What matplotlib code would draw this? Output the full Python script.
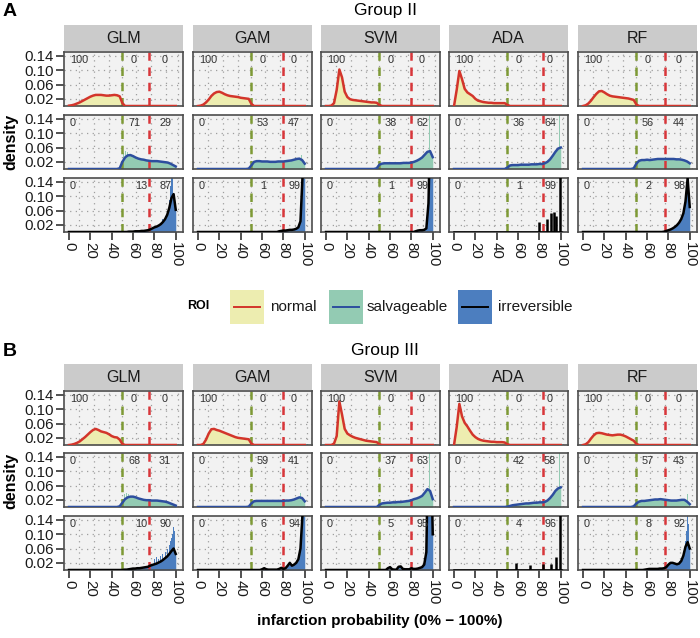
import matplotlib
matplotlib.use("Agg")
import matplotlib.pyplot as plt
from matplotlib.patches import Rectangle
from matplotlib.lines import Line2D

plt.rcParams['font.family'] = ['Liberation Sans', 'DejaVu Sans']

# ---------------- data ----------------
models = ["GLM", "GAM", "SVM", "ADA", "RF"]
roi_names = ["normal", "salvageable", "irreversible"]
group_titles = ["Group II", "Group III"]
panel_letters = ["A", "B"]
green_thr = [50, 50, 50, 50, 50]
red_thr = [75, 80, 80, 83, 77]
x_ticks = [0, 20, 40, 60, 80, 100]
y_ticks = [0.02, 0.06, 0.10, 0.14]

x_normal = [0, 2.5, 5, 7.5, 10, 12.5, 15, 17.5, 20, 22.5, 25, 27.5, 30, 32.5, 35,
            37.5, 40, 42.5, 45, 47.5, 50, 52.5, 55]
x_salv = [45, 47.5, 50, 52.5, 55, 57.5, 60, 62.5, 65, 67.5, 70, 72.5, 75, 77.5, 80,
          82.5, 85, 87.5, 90, 92.5, 95, 97.5, 100]
x_irrev = [50, 52, 54, 56, 58, 60, 62, 64, 66, 68, 70, 72, 74, 76, 78, 80, 82, 84,
           86, 88, 90, 92, 94, 96, 98, 100]

g2_normal = [
    [0.001, 0.002, 0.004, 0.007, 0.010, 0.014, 0.018, 0.022, 0.026, 0.029, 0.031, 0.031, 0.031, 0.030, 0.029, 0.029, 0.030, 0.031, 0.030, 0.027, 0.008, 0, 0],
    [0, 0.001, 0.004, 0.010, 0.018, 0.028, 0.035, 0.039, 0.040, 0.037, 0.033, 0.030, 0.028, 0.027, 0.026, 0.025, 0.023, 0.022, 0.021, 0.020, 0.006, 0, 0],
    [0, 0, 0.001, 0.008, 0.045, 0.102, 0.080, 0.040, 0.025, 0.019, 0.017, 0.016, 0.015, 0.014, 0.013, 0.012, 0.011, 0.010, 0.010, 0.009, 0.003, 0, 0],
    [0, 0.045, 0.098, 0.075, 0.048, 0.038, 0.033, 0.028, 0.020, 0.015, 0.013, 0.011, 0.010, 0.009, 0.009, 0.008, 0.008, 0.008, 0.008, 0.008, 0.003, 0, 0],
    [0, 0.002, 0.007, 0.015, 0.025, 0.034, 0.041, 0.042, 0.038, 0.033, 0.029, 0.027, 0.026, 0.025, 0.024, 0.023, 0.022, 0.021, 0.019, 0.017, 0.004, 0, 0],
]
g3_normal = [
    [0, 0.001, 0.003, 0.006, 0.010, 0.016, 0.022, 0.029, 0.036, 0.042, 0.045, 0.042, 0.038, 0.036, 0.034, 0.030, 0.025, 0.022, 0.021, 0.015, 0.003, 0, 0],
    [0, 0, 0.003, 0.015, 0.032, 0.044, 0.045, 0.042, 0.040, 0.037, 0.034, 0.031, 0.028, 0.025, 0.022, 0.020, 0.019, 0.018, 0.017, 0.016, 0.004, 0, 0],
    [0, 0, 0, 0.004, 0.025, 0.122, 0.085, 0.045, 0.032, 0.027, 0.023, 0.020, 0.018, 0.016, 0.014, 0.012, 0.011, 0.010, 0.009, 0.008, 0.002, 0, 0],
    [0, 0.050, 0.115, 0.080, 0.062, 0.052, 0.040, 0.029, 0.022, 0.017, 0.014, 0.012, 0.011, 0.010, 0.009, 0.009, 0.008, 0.008, 0.008, 0.007, 0.002, 0, 0],
    [0, 0.002, 0.008, 0.018, 0.027, 0.033, 0.034, 0.033, 0.031, 0.029, 0.028, 0.027, 0.028, 0.029, 0.029, 0.027, 0.024, 0.020, 0.016, 0.012, 0.003, 0, 0],
]

g2_salv = [
    [0, 0.002, 0.020, 0.032, 0.038, 0.039, 0.036, 0.032, 0.029, 0.027, 0.026, 0.024, 0.023, 0.022, 0.022, 0.022, 0.021, 0.020, 0.019, 0.018, 0.015, 0.011, 0.007],
    [0, 0.001, 0.010, 0.020, 0.022, 0.022, 0.021, 0.021, 0.021, 0.020, 0.020, 0.020, 0.021, 0.021, 0.021, 0.022, 0.023, 0.024, 0.026, 0.028, 0.029, 0.025, 0.015],
    [0, 0.002, 0.012, 0.015, 0.016, 0.016, 0.016, 0.016, 0.016, 0.016, 0.016, 0.017, 0.017, 0.017, 0.018, 0.020, 0.023, 0.027, 0.032, 0.040, 0.048, 0.050, 0.033],
    [0, 0, 0.004, 0.010, 0.011, 0.011, 0.011, 0.012, 0.012, 0.012, 0.012, 0.013, 0.013, 0.013, 0.014, 0.014, 0.016, 0.020, 0.027, 0.037, 0.048, 0.057, 0.060],
    [0, 0.002, 0.015, 0.023, 0.025, 0.025, 0.026, 0.025, 0.026, 0.027, 0.028, 0.028, 0.028, 0.028, 0.028, 0.028, 0.028, 0.027, 0.027, 0.026, 0.024, 0.021, 0.016],
]
g3_salv = [
    [0, 0.002, 0.012, 0.022, 0.027, 0.029, 0.029, 0.027, 0.024, 0.022, 0.020, 0.019, 0.019, 0.018, 0.018, 0.018, 0.017, 0.016, 0.015, 0.013, 0.010, 0.007, 0.004],
    [0, 0.001, 0.010, 0.016, 0.017, 0.017, 0.017, 0.017, 0.017, 0.017, 0.017, 0.017, 0.017, 0.017, 0.017, 0.018, 0.018, 0.019, 0.021, 0.024, 0.027, 0.025, 0.016],
    [0, 0, 0.006, 0.010, 0.011, 0.012, 0.012, 0.013, 0.013, 0.014, 0.014, 0.015, 0.016, 0.017, 0.019, 0.022, 0.024, 0.027, 0.031, 0.040, 0.050, 0.045, 0.022],
    [0, 0, 0.001, 0.003, 0.005, 0.006, 0.007, 0.008, 0.009, 0.010, 0.010, 0.011, 0.012, 0.012, 0.013, 0.013, 0.014, 0.018, 0.025, 0.034, 0.045, 0.052, 0.055],
    [0, 0.002, 0.010, 0.015, 0.017, 0.017, 0.018, 0.019, 0.020, 0.021, 0.021, 0.022, 0.021, 0.020, 0.019, 0.018, 0.018, 0.018, 0.019, 0.020, 0.020, 0.015, 0.008],
]

g2_irrev = [
    [0, 0, 0, 0.001, 0.001, 0.001, 0.002, 0.002, 0.002, 0.003, 0.003, 0.004, 0.005, 0.007, 0.010, 0.013, 0.015, 0.018, 0.022, 0.028, 0.036, 0.048, 0.068, 0.095, 0.106, 0.062],
    [0, 0, 0, 0, 0, 0, 0, 0, 0, 0, 0, 0, 0, 0.002, 0.003, 0.004, 0.004, 0.005, 0.006, 0.006, 0.007, 0.009, 0.013, 0.030, 0.160, 0.300],
    [0, 0, 0, 0, 0, 0, 0, 0, 0, 0, 0, 0, 0, 0, 0, 0, 0, 0.002, 0.004, 0.005, 0.005, 0.006, 0.010, 0.080, 0.350, 0.300],
    [0, 0, 0, 0, 0, 0, 0, 0, 0, 0, 0, 0, 0, 0, 0, 0, 0, 0, 0, 0, 0, 0, 0, 0, 0, 0],
    [0, 0, 0, 0, 0, 0, 0, 0, 0, 0, 0, 0, 0, 0.001, 0.003, 0.005, 0.007, 0.010, 0.014, 0.019, 0.026, 0.036, 0.052, 0.085, 0.150, 0.070],
]
g3_irrev = [
    [0, 0.001, 0.001, 0.002, 0.003, 0.004, 0.004, 0.005, 0.005, 0.006, 0.007, 0.008, 0.009, 0.012, 0.014, 0.016, 0.018, 0.021, 0.024, 0.028, 0.033, 0.038, 0.045, 0.053, 0.060, 0.045],
    [0, 0, 0, 0, 0, 0.002, 0.005, 0.002, 0.001, 0.001, 0.001, 0.001, 0.001, 0.003, 0.006, 0.003, 0.005, 0.012, 0.020, 0.012, 0.015, 0.020, 0.030, 0.060, 0.160, 0.250],
    [0, 0, 0, 0, 0.005, 0.008, 0.002, 0.001, 0.001, 0.009, 0.010, 0.003, 0.002, 0.002, 0.002, 0.005, 0.003, 0.003, 0.004, 0.006, 0.008, 0.015, 0.050, 0.400, 0.400, 0.100],
    [0, 0, 0, 0, 0, 0, 0, 0, 0, 0, 0, 0, 0, 0, 0, 0, 0, 0, 0, 0, 0, 0, 0, 0, 0, 0],
    [0, 0, 0, 0, 0.001, 0.002, 0.003, 0.003, 0.003, 0.003, 0.003, 0.004, 0.004, 0.005, 0.008, 0.015, 0.020, 0.020, 0.018, 0.016, 0.018, 0.025, 0.040, 0.065, 0.078, 0.060],
]

# spiky ADA irreversible densities
g2_ada_spike_x = [79.5, 87, 90.5, 93.3, 96, 99]
g2_ada_spike_h = [0.028, 0.035, 0.052, 0.056, 0.045, 0.30]
g3_ada_spike_x = [58.5, 71, 83, 90.5, 96, 99]
g3_ada_spike_h = [0.020, 0.015, 0.018, 0.018, 0.035, 0.30]

# histogram bars standing above the density curves
g2_salv_bar_x = [[51, 53, 55, 57], [97], [97], [99], []]
g2_salv_bar_h = [[0.045, 0.050, 0.048, 0.042], [0.040], [0.150], [0.150], []]
g3_salv_bar_x = [[52, 54, 56], [96], [97], [99], [98]]
g3_salv_bar_h = [[0.035, 0.040, 0.036], [0.040], [0.150], [0.150], [0.035]]
g2_irrev_bar_x = [[88, 90, 92, 94, 95, 96, 97], [98, 99], [97, 98, 99], [], [95, 96, 97, 98, 99]]
g2_irrev_bar_h = [[0.035, 0.045, 0.060, 0.090, 0.130, 0.160, 0.160], [0.2, 0.2], [0.2, 0.2, 0.2], [],
                  [0.070, 0.110, 0.140, 0.160, 0.160]]
g3_irrev_bar_x = [[80, 82, 84, 86, 88, 90, 92, 94, 95, 96, 97, 98, 99], [97, 98, 99], [95, 96, 97, 98], [],
                  [90, 92, 94, 96, 97, 98, 99]]
g3_irrev_bar_h = [[0.030, 0.035, 0.030, 0.040, 0.045, 0.050, 0.060, 0.070, 0.080, 0.090, 0.100, 0.120, 0.110],
                  [0.2, 0.2, 0.2], [0.2, 0.2, 0.2, 0.2], [],
                  [0.025, 0.030, 0.045, 0.080, 0.110, 0.150, 0.130]]

# percentage annotations (left / middle / right of thresholds)
g2_pct = [
    [["100", "0", "0"]] * 5,
    [["0", "71", "29"], ["0", "53", "47"], ["0", "38", "62"], ["0", "36", "64"], ["0", "56", "44"]],
    [["0", "13", "87"], ["0", "1", "99"], ["0", "1", "99"], ["0", "1", "99"], ["0", "2", "98"]],
]
g3_pct = [
    [["100", "0", "0"]] * 5,
    [["0", "68", "31"], ["0", "59", "41"], ["0", "37", "63"], ["0", "42", "58"], ["0", "57", "43"]],
    [["0", "10", "90"], ["0", "6", "94"], ["0", "5", "95"], ["0", "4", "96"], ["0", "8", "92"]],
]

# ---------------- style ----------------
fill_cols = ["#EDEDB0", "#93CBB3", "#4C7EBF"]
line_cols = ["#D3352B", "#2D4E9E", "#000000"]
GREEN = "#7E9A35"
RED = "#D8363A"
PANEL_BG = "#F2F2F2"
STRIP_BG = "#CBCBCB"
BORDER = "#4D4D4D"
XLIM = (-4.7, 106.8)
YLIM = (0, 0.151)

W, H = 700, 638
fig = plt.figure(figsize=(7, 6.38), dpi=100)


def rect(x0, y0, w, h):
    return [x0 / W, 1 - (y0 + h) / H, w / W, h / H]


overlay = fig.add_axes([0, 0, 1, 1])
overlay.set_xlim(0, W)
overlay.set_ylim(H, 0)
overlay.axis("off")
overlay.set_zorder(-1)

col_left = [64, 193, 321, 449, 578]
col_w = 119
row_h = 54
layouts = [
    dict(rows=[52, 115, 178], strip=25, title_y=11, letter_y=12, dens_y=142),
    dict(rows=[391, 453, 516], strip=364, title_y=351, letter_y=351, dens_y=481),
]
groups = [
    dict(normal=g2_normal, salv=g2_salv, irrev=g2_irrev, ada_x=g2_ada_spike_x, ada_h=g2_ada_spike_h,
         sbx=g2_salv_bar_x, sbh=g2_salv_bar_h, ibx=g2_irrev_bar_x, ibh=g2_irrev_bar_h, pct=g2_pct),
    dict(normal=g3_normal, salv=g3_salv, irrev=g3_irrev, ada_x=g3_ada_spike_x, ada_h=g3_ada_spike_h,
         sbx=g3_salv_bar_x, sbh=g3_salv_bar_h, ibx=g3_irrev_bar_x, ibh=g3_irrev_bar_h, pct=g3_pct),
]
grid_x = [9, 23, 37, 50, 63, 77, 91, 102]

for gi, (grp, lay) in enumerate(zip(groups, layouts)):
    overlay.text(3, lay["letter_y"], panel_letters[gi], fontsize=14, fontweight="bold",
                 ha="left", va="center")
    overlay.text(385, lay["title_y"], group_titles[gi], fontsize=12.5, ha="center", va="center")
    overlay.text(11, lay["dens_y"], "density", fontsize=11.5, fontweight="bold",
                 rotation=90, ha="center", va="center")
    for ci, m in enumerate(models):
        # strip
        overlay.add_patch(Rectangle((col_left[ci], lay["strip"]), col_w, 26,
                                    facecolor=STRIP_BG, edgecolor="none"))
        overlay.text(col_left[ci] + col_w / 2, lay["strip"] + 13.5, m, fontsize=11.5,
                     ha="center", va="center", color="#1A1A1A")
        for ri in range(3):
            ax = fig.add_axes(rect(col_left[ci], lay["rows"][ri], col_w, row_h))
            ax.set_facecolor(PANEL_BG)
            ax.set_xlim(*XLIM)
            ax.set_ylim(*YLIM)
            for gx in grid_x:
                ax.axvline(gx, color="#9E9E9E", lw=0.9, ls=(0, (1, 3.5)), zorder=0.5)
            for gy in y_ticks:
                ax.axhline(gy, color="#9E9E9E", lw=0.9, ls=(0, (1, 3.5)), zorder=0.5)

            if ri == 0:
                xs, ys = x_normal + [100], grp["normal"][ci] + [0]
            elif ri == 1:
                xs, ys = [0] + x_salv, [0] + grp["salv"][ci]
            else:
                xs, ys = [0] + x_irrev, [0] + grp["irrev"][ci]

            ax.fill_between(xs, 0, ys, color=fill_cols[ri], lw=0, zorder=1)
            if ri == 1 and grp["sbx"][ci]:
                ax.bar(grp["sbx"][ci], grp["sbh"][ci], width=1.0, color=fill_cols[1], lw=0, zorder=1)
            if ri == 2 and grp["ibx"][ci]:
                ax.bar(grp["ibx"][ci], grp["ibh"][ci], width=1.0, color=fill_cols[2], lw=0, zorder=1)
            ax.plot(xs, ys, color=line_cols[ri], lw=1.8, zorder=3, solid_joinstyle="round")
            if ri == 2 and m == "ADA":
                ax.vlines(grp["ada_x"], 0, grp["ada_h"], color="#000000", lw=1.8, zorder=3)

            ax.axvline(green_thr[ci], color=GREEN, lw=1.8, dashes=(3.4, 2.7), zorder=2)
            ax.axvline(red_thr[ci], color=RED, lw=1.8, dashes=(3.4, 2.7), zorder=2)

            labs = grp["pct"][ri][ci]
            mid_x = 68 if (ri == 2 and m == "GLM") else 61
            ax.text(1, 0.128, labs[0], fontsize=7.8, color="#333333", ha="left", va="center", zorder=4)
            ax.text(mid_x, 0.128, labs[1], fontsize=7.8, color="#333333", ha="center", va="center", zorder=4)
            ax.text(90, 0.128, labs[2], fontsize=7.8, color="#333333", ha="center", va="center", zorder=4)

            for sp in ax.spines.values():
                sp.set_color(BORDER)
                sp.set_linewidth(1.2)
            ax.set_yticks(y_ticks)
            ax.set_xticks(x_ticks)
            ax.tick_params(axis="both", length=6, width=1.2, color="#333333", pad=1.5,
                           labelsize=10.8, labelcolor="#1A1A1A")
            if ci == 0:
                ax.set_yticklabels(["%.2f" % v for v in y_ticks])
            else:
                ax.tick_params(axis="y", left=False, labelleft=False)
            if ri == 2:
                ax.set_xticklabels([str(v) for v in x_ticks], rotation=-90, ha="center", va="top")
            else:
                ax.tick_params(axis="x", bottom=False, labelbottom=False)

# legend
overlay.text(187, 306, "ROI", fontsize=9, fontweight="bold", ha="left", va="center")
key_x = [230, 329, 458]
text_x = [270, 367, 498]
for k in range(3):
    overlay.add_patch(Rectangle((key_x[k], 290), 34, 34, facecolor=fill_cols[k], edgecolor="none"))
    overlay.add_line(Line2D([key_x[k] + 4, key_x[k] + 30], [307, 307], color=line_cols[k], lw=1.4))
    overlay.text(text_x[k], 307, roi_names[k], fontsize=11, ha="left", va="center", color="#1A1A1A")

overlay.text(380, 621, "infarction probability (0% \u2212 100%)", fontsize=11, fontweight="bold",
             ha="center", va="center")

fig.savefig("out.png", dpi=100)
